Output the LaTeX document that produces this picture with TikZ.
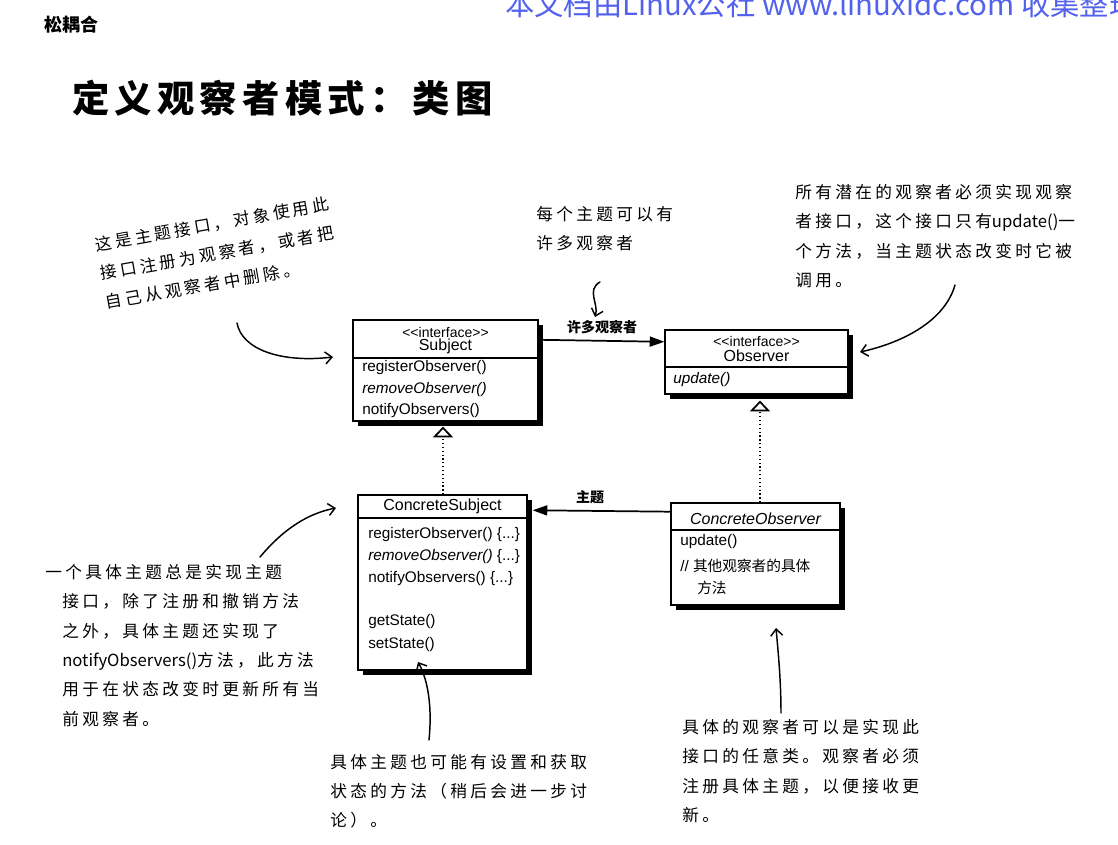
\documentclass[tikz,border=0pt]{standalone}
\usepackage{fontspec}
\setmainfont{Liberation Sans}
\newfontfamily\cjk{Noto Sans CJK SC}
\newfontfamily\hand[LetterSpace=20]{Noto Sans CJK SC}
\newfontfamily\titlefont[LetterSpace=14]{Noto Sans CJK SC}
\usetikzlibrary{arrows.meta,calc}
\definecolor{wmblue}{RGB}{82,98,238}
\begin{document}
\begin{tikzpicture}[x=0.75pt,y=-0.75pt,
  umlbox/.style={draw, line width=0.9pt, fill=white, inner sep=0pt,
    preaction={fill=black, transform canvas={xshift=3.4pt, yshift=-3.4pt}}},
  stereo/.style={inner sep=0pt, font=\fontsize{10.5}{12}\selectfont},
  cname/.style={inner sep=0pt, font=\fontsize{12}{14}\selectfont},
  meth/.style={anchor=west, inner sep=0pt, font=\fontsize{11.5}{13}\selectfont},
  divider/.style={line width=0.8pt},
  assoc/.style={line width=1.3pt, -{Triangle[length=11pt,width=7.5pt]}},
  realize/.style={line width=0.9pt, dotted, -{Triangle[open,length=8pt,width=15pt,line width=1.3pt]}},
  assoclabel/.style={inner sep=0pt, font=\cjk\bfseries\fontsize{10.5}{12}\selectfont},
  note/.style={anchor=north west, align=left, inner sep=0pt, font=\hand\fontsize{12.5}{22}\selectfont},
  pen/.style={line width=1.1pt, line cap=round, -{Straight Barb[length=5pt,width=9pt,line width=1.1pt]}}
]
\useasboundingbox[fill=white] (0,0) rectangle (1118,844);

% header
\node[anchor=base west, inner sep=0pt, text=wmblue, font=\cjk\fontsize{22}{24}\selectfont] (wm) at (505,15) {本文档由Linux公社 www.linuxidc.com 收集整理};
\node[anchor=west, inner sep=0pt, font=\cjk\bfseries\fontsize{13.5}{15}\selectfont] (sec) at (44,25) {松耦合};
\node[anchor=west, inner sep=0pt, font=\titlefont\bfseries\fontsize{28}{30}\selectfont] (title) at (72,98) {定义观察者模式：类图};

% Subject
\node[umlbox, minimum width=138.75pt, minimum height=75.75pt] (subj) at (445.5,370.5) {};
\draw[divider] (subj.west |- 0,358) -- (subj.east |- 0,358);
\node[stereo] (subjst) at (445.5,332) {<\kern0pt<interface>\kern0pt>};
\node[cname] (subjnm) at (445.5,346.5) {Subject};
\node[meth] (subjm1) at (362,368) {registerObserver()};
\node[meth] (subjm2) at (362,389.5) {\itshape removeObserver()};
\node[meth] (subjm3) at (362,411) {notifyObservers()};

% Observer
\node[umlbox, minimum width=137.25pt, minimum height=48pt] (obs) at (756.5,362) {};
\draw[divider] (obs.west |- 0,367) -- (obs.east |- 0,367);
\node[stereo] (obsst) at (756.5,341) {<\kern0pt<interface>\kern0pt>};
\node[cname] (obsnm) at (756.5,356) {Observer};
\node[meth] (obsm1) at (673,380) {\itshape update()};

% ConcreteSubject
\node[umlbox, minimum width=126.75pt, minimum height=131.25pt] (cs) at (442.5,582.5) {};
\draw[divider] (cs.west |- 0,518) -- (cs.east |- 0,518);
\node[cname] (csnm) at (442.5,506.5) {ConcreteSubject};
\node[meth] (csm1) at (368,535) {registerObserver() \{...\}};
\node[meth] (csm2) at (368,557) {{\itshape removeObserver()} \{...\}};
\node[meth] (csm3) at (368,579) {notifyObservers() \{...\}};
\node[meth] (csm4) at (368,622) {getState()};
\node[meth] (csm5) at (368,645) {setState()};

% ConcreteObserver
\node[umlbox, minimum width=126.75pt, minimum height=76.5pt] (co) at (755.5,554) {};
\draw[divider] (co.west |- 0,530) -- (co.east |- 0,530);
\node[cname] (conm) at (755.5,518.5) {\itshape ConcreteObserver};
\node[meth] (com1) at (680,542) {update()};
\node[meth] (com2) at (680,566) {// {\cjk\fontsize{11}{13}\selectfont 其他观察者的具体}};
\node[meth] (com3) at (697,588) {{\cjk\fontsize{11}{13}\selectfont 方法}};

% connectors
\draw[assoc] ($(subj.north east)!0.2!(subj.south east)+(4,0)$) -- ($(obs.north west)!0.19!(obs.south west)$);
\node[assoclabel] (lblmany) at (602,327) {许多观察者};
\draw[assoc] ($(co.north west)!0.09!(co.south west)$) -- ($(cs.north east)!0.09!(cs.south east)+(5,0)$);
\node[assoclabel] (lblsubj) at (590,497) {主题};
\draw[realize] ($(cs.north)+(0.5,0)$) -- ($(subj.south)+(-2.5,5)$);
\draw[realize] ($(co.north)+(4.5,0)$) -- ($(obs.south)+(3.5,6)$);

% notes
\node[note, rotate=10] (n1) at (94,237) {这是主题接口，对象使用此\\接口注册为观察者，或者把\\自己从观察者中删除。};
\node[note] (n2) at (536,206) {每个主题可以有\\许多观察者};
\node[note] (n3) at (795,184) {所有潜在的观察者必须实现观察\\者接口，这个接口只有{\cjk update()}一\\个方法，当主题状态改变时它被\\调用。};
\node[note] (n4) at (62,564) {\hspace*{-12.75pt}一个具体主题总是实现主题\\接口，除了注册和撤销方法\\之外，具体主题还实现了\\{\cjk notifyObservers()}方法，此方法\\用于在状态改变时更新所有当\\前观察者。};
\node[note] (n5) at (330,754) {具体主题也可能有设置和获取\\状态的方法（稍后会进一步讨\\论）。};
\node[note] (n6) at (682,719) {具体的观察者可以是实现此\\接口的任意类。观察者必须\\注册具体主题，以便接收更\\新。};

% hand-drawn pointers
\coordinate (p1s) at (237,323); \coordinate (p1e) at (333,357);
\draw[pen] (p1s) .. controls (242,350) and (282,363) .. (p1e);
\coordinate (p2s) at (600,282); \coordinate (p2e) at (595,317);
\draw[pen] (p2s) .. controls (586,290) and (599,304) .. (p2e);
\coordinate (p3s) at (955,285); \coordinate (p3e) at (860,352);
\draw[pen] (p3s) .. controls (945,320) and (905,342) .. (p3e);
\coordinate (p4s) at (260,557); \coordinate (p4e) at (336,508);
\draw[pen] (p4s) .. controls (276,538) and (300,515) .. (p4e);
\coordinate (p5s) at (429,740); \coordinate (p5e) at (418,662);
\draw[pen] (p5s) .. controls (432,710) and (429,682) .. (p5e);
\coordinate (p6s) at (781,713); \coordinate (p6e) at (776,628);
\draw[pen] (p6s) .. controls (781,680) and (778,650) .. (p6e);
\end{tikzpicture}
\end{document}
